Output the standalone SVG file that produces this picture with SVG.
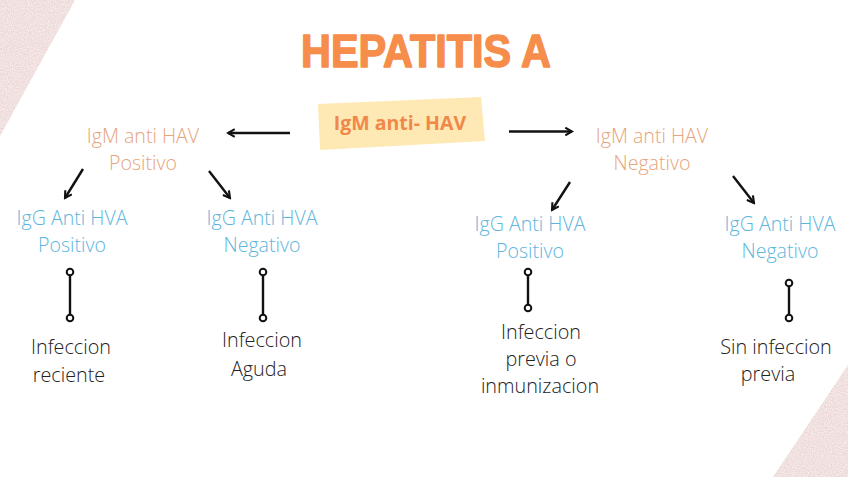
<svg xmlns="http://www.w3.org/2000/svg" width="848" height="477" viewBox="0 0 848 477">
<defs>
<filter id="speck" x="0" y="0" width="100%" height="100%">
<feTurbulence type="fractalNoise" baseFrequency="0.95" numOctaves="2" seed="3" result="n"/>
<feColorMatrix in="n" type="matrix" values="0 0 0 0 0.82  0 0 0 0 0.66  0 0 0 0 0.66  0 0 0 -2.2 1.55" result="c"/>
<feComposite in="c" in2="SourceGraphic" operator="in"/>
</filter>
<marker id="ah" viewBox="0 0 10 10" refX="8" refY="5" markerWidth="4" markerHeight="4" orient="auto" markerUnits="strokeWidth">
<path d="M1,1 L8,5 L1,9" fill="none" stroke="#111" stroke-width="2.2" stroke-linejoin="miter"/>
</marker>
</defs>
<style>
.lbl{font-family:"Open Sans","Liberation Sans",sans-serif;font-weight:300;font-size:19.6px;text-anchor:middle}
.igm{fill:#E7A47A}
.igg{fill:#5DB6DD}
.res{fill:#222;font-size:19.8px}
.arr{stroke:#111;stroke-width:2.4;fill:none;marker-end:url(#ah)}
.stem{stroke:#111;stroke-width:2.4}
.dot{fill:#fff;stroke:#111;stroke-width:2}
.corner{fill:#F6ECEA}
</style>
<rect width="848" height="477" fill="#fff"/>
<polygon class="corner" points="0,0 75,0 0,136"/>
<polygon class="corner" points="848,365 848,477 773,477"/>
<polygon points="0,0 75,0 0,136" fill="#F1E2E0" filter="url(#speck)"/>
<polygon points="848,365 848,477 773,477" fill="#F1E2E0" filter="url(#speck)"/>

<g id="title">
<text x="426" y="67" font-family="Liberation Sans, Arial, sans-serif" font-weight="700" font-size="46" fill="#F68D4A" stroke="#F68D4A" stroke-width="1.5" stroke-linejoin="round" text-anchor="middle" textLength="250" lengthAdjust="spacingAndGlyphs">HEPATITIS A</text>
</g>

<g id="root">
<polygon points="318,104 481,97 485,141 320,150" fill="#FEE9B4"/>
<text x="400" y="130" font-family="Open Sans, Liberation Sans, sans-serif" font-weight="700" font-size="19.5" fill="#F0884A" text-anchor="middle">IgM anti- HAV</text>
</g>

<g id="igm-pos">
<text class="lbl igm" x="143" y="143">IgM anti HAV</text>
<text class="lbl igm" x="143" y="170">Positivo</text>
</g>
<g id="igm-neg">
<text class="lbl igm" x="652" y="143">IgM anti HAV</text>
<text class="lbl igm" x="652" y="170">Negativo</text>
</g>

<g id="igg-pos-1">
<text class="lbl igg" x="72" y="225">IgG Anti HVA</text>
<text class="lbl igg" x="72" y="252">Positivo</text>
</g>
<g id="igg-neg-1">
<text class="lbl igg" x="262" y="225">IgG Anti HVA</text>
<text class="lbl igg" x="262" y="252">Negativo</text>
</g>
<g id="igg-pos-2">
<text class="lbl igg" x="530" y="231">IgG Anti HVA</text>
<text class="lbl igg" x="530" y="258">Positivo</text>
</g>
<g id="igg-neg-2">
<text class="lbl igg" x="780" y="231">IgG Anti HVA</text>
<text class="lbl igg" x="780" y="258">Negativo</text>
</g>

<g id="res-1">
<text class="lbl res" x="71" y="354">Infeccion</text>
<text class="lbl res" x="69" y="382">reciente</text>
</g>
<g id="res-2">
<text class="lbl res" x="262" y="347">Infeccion</text>
<text class="lbl res" x="259" y="376">Aguda</text>
</g>
<g id="res-3">
<text class="lbl res" x="541" y="339">Infeccion</text>
<text class="lbl res" x="541" y="366">previa o</text>
<text class="lbl res" x="540" y="393">inmunizacion</text>
</g>
<g id="res-4">
<text class="lbl res" x="776" y="354">Sin infeccion</text>
<text class="lbl res" x="768" y="381">previa</text>
</g>

<g id="connectors">
<line class="arr" x1="290" y1="133" x2="228" y2="133"/>
<line class="arr" x1="509" y1="131.5" x2="572" y2="131.5"/>
<line class="arr" x1="83" y1="169" x2="65" y2="198"/>
<line class="arr" x1="209" y1="171" x2="230" y2="198"/>
<line class="arr" x1="570" y1="182" x2="552" y2="210"/>
<line class="arr" x1="733" y1="176" x2="754" y2="203"/>
<line class="stem" x1="70" y1="272" x2="70" y2="318"/>
<circle class="dot" cx="70" cy="272" r="3.3"/>
<circle class="dot" cx="70" cy="318" r="3.3"/>
<line class="stem" x1="263" y1="272" x2="263" y2="318"/>
<circle class="dot" cx="263" cy="272" r="3.3"/>
<circle class="dot" cx="263" cy="318" r="3.3"/>
<line class="stem" x1="528" y1="272" x2="528" y2="308"/>
<circle class="dot" cx="528" cy="272" r="3.3"/>
<circle class="dot" cx="528" cy="308" r="3.3"/>
<line class="stem" x1="789" y1="283" x2="789" y2="318"/>
<circle class="dot" cx="789" cy="283" r="3.3"/>
<circle class="dot" cx="789" cy="318" r="3.3"/>
</g>
</svg>
